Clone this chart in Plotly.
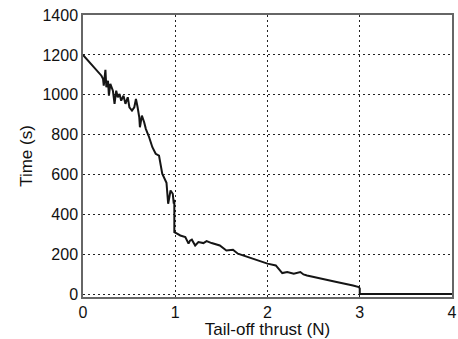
import plotly.graph_objects as go

thrust = [0, 0.2, 0.217, 0.225, 0.243, 0.253, 0.271, 0.281, 0.296, 0.324, 0.342, 0.36, 0.377,
          0.396, 0.414, 0.439, 0.46, 0.485, 0.503, 0.531, 0.556, 0.574, 0.592, 0.61, 0.617,
          0.638, 0.663, 0.681, 0.717, 0.752, 0.788, 0.824, 0.859, 0.877, 0.905, 0.923, 0.949,
          0.973, 0.984, 0.99, 0.99, 1.02, 1.055, 1.109, 1.144, 1.16, 1.18, 1.216, 1.251, 1.305,
          1.34, 1.394, 1.483, 1.554, 1.626, 1.679, 1.786, 1.893, 2.0, 2.09, 2.16, 2.214, 2.285,
          2.356, 2.39, 2.428, 2.57, 2.749, 2.927, 2.99, 3.0, 3.0, 4.0]
time_s = [1200, 1096, 1080, 1046, 1125, 1038, 1071, 996, 1055, 1021, 955, 1021, 988,
          1005, 971, 996, 955, 988, 938, 921, 938, 980, 938, 888, 838,
          896, 863, 830, 788, 738, 705, 696, 605, 588, 560, 455, 521,
          505, 455, 475, 313, 305, 296, 288, 255, 270, 275, 246, 263, 258,
          268, 258, 246, 221, 225, 205, 188, 171, 155, 146, 108, 113, 105,
          113, 101, 96, 80, 63, 46, 38, 30, 3, 3]

x_ticks = [0, 1, 2, 3, 4]
y_ticks = [0, 200, 400, 600, 800, 1000, 1200, 1400]

fig = go.Figure(go.Scatter(x=thrust, y=time_s, mode="lines",
                           line=dict(color="#151515", width=2), showlegend=False))

font = "Liberation Sans, Arial, sans-serif"
grid = dict(showgrid=True, gridcolor="#222", griddash="2px,3px", gridwidth=1,
            showline=True, mirror=True, linecolor="#666", linewidth=1.5,
            zeroline=False, ticks="", tickfont=dict(size=16))
fig.update_layout(
    width=458, height=339,
    margin=dict(l=83, r=1, t=15, b=42),
    paper_bgcolor="white", plot_bgcolor="white",
    font=dict(family=font, size=15, color="#111"),
    xaxis=dict(range=[0, 4], tickvals=x_ticks, ticklabeloverflow="allow",
               title=dict(text="Tail-off thrust (N)", font=dict(size=17), standoff=2),
               **grid),
    yaxis=dict(range=[-12, 1400], tickvals=y_ticks,
               title=dict(text="Time (s)", font=dict(size=17), standoff=6),
               **grid),
)

fig.write_html("out.html")
